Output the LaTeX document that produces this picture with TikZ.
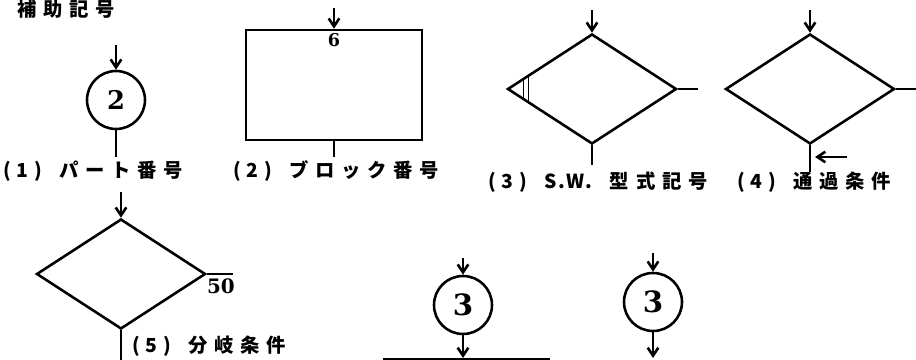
\documentclass[tikz,border=0pt]{standalone}
\usepackage{fontspec}
\usepackage{tikz}
\usetikzlibrary{positioning,arrows.meta,shapes.geometric,calc}
\newfontfamily\jpfont{Noto Sans CJK JP}[LetterSpace=35]
\newfontfamily\numfont{DejaVu Serif}
\newcommand\numlabel[1]{(\hspace{0.3em}#1\hspace{0.3em})\hspace{0.9em}}
\tikzset{
  flow/.style={line width=2.2pt},
  arrow/.style={flow, -{Straight Barb[length=2.4mm, width=3.2mm]}},
  numtext/.style={inner sep=0pt, font=\numfont\bfseries\fontsize{22}{22}\selectfont},
  partcircle/.style={draw, flow, circle, minimum size=17.4mm, inner sep=0pt, numtext},
  blockbox/.style={draw, flow, minimum width=52.8mm, minimum height=33mm, inner sep=0pt},
  decision/.style={draw, flow, diamond, minimum width=50.7mm, minimum height=33mm, inner sep=0pt},
  caption/.style={anchor=west, inner sep=0pt, font=\jpfont\bfseries\fontsize{16.5}{16.5}\selectfont},
}

\begin{document}
\begin{tikzpicture}[x=0.3mm, y=-0.3mm]
  \useasboundingbox (0,0) rectangle (916,360);
  \node[caption] (title) at (17,9) {補助記号};

  % (1) part number
  \node[partcircle] (part) at (116,100) {2};
  \coordinate (partin) at (116,45);
  \coordinate (partout) at (116,157);
  \draw[arrow] (partin) -- (part);
  \draw[flow] (part) -- (partout);
  \node[caption] (cap1) at (3,171) {\numlabel{1}パート番号};

  % (2) block number
  \node[blockbox] (block) at (334,85) {};
  \coordinate (blockin) at (334,8);
  \coordinate (blockout) at (334,157);
  \draw[arrow] (blockin) -- (block.north);
  \draw[flow] (block.south) -- (blockout);
  \node[numtext, font=\numfont\bfseries\fontsize{15}{15}\selectfont, below=1.4mm of block.north] (blockno) {6};
  \node[caption] (cap2) at (233,171) {\numlabel{2}ブロック番号};

  % (3) S.W. type
  \node[decision] (sw) at (592,89) {};
  \coordinate (swin) at (592,10);
  \coordinate (swout) at (592,165);
  \coordinate (swright) at (698,89);
  \draw[arrow] (swin) -- (sw.north);
  \draw[flow] (sw.south) -- (swout);
  \draw[flow] (sw.east) -- (swright);
  \draw[line width=1.2pt] ($(sw.west)!0.2!(sw.north)$) -- ($(sw.west)!0.2!(sw.south)$);
  \draw[line width=1.2pt] ($(sw.west)!0.26!(sw.north)$) -- ($(sw.west)!0.26!(sw.south)$);
  \node[caption] (cap3) at (488,182) {\numlabel{3}{\addfontfeature{LetterSpace=10}S.W.}\hspace{0.9em}型式記号};

  % (4) pass condition
  \node[decision] (pass) at (810,89) {};
  \coordinate (passin) at (810,10);
  \coordinate (passout) at (810,172);
  \coordinate (passright) at (916,89);
  \coordinate (condtail) at (847,157);
  \coordinate (condhead) at (815,157);
  \draw[arrow] (passin) -- (pass.north);
  \draw[flow] (pass.south) -- (passout);
  \draw[flow] (pass.east) -- (passright);
  \draw[arrow] (condtail) -- (condhead);
  \node[caption] (cap4) at (737,182) {\numlabel{4}通過条件};

  % (5) branch condition
  \node[decision] (branch) at (121,274) {};
  \coordinate (branchin) at (121,192);
  \coordinate (branchout) at (121,360);
  \coordinate (branchright) at (233,274);
  \draw[arrow] (branchin) -- (branch.north);
  \draw[flow] (branch.south) -- (branchout);
  \draw[flow] (branch.east) -- (branchright);
  \node[numtext, font=\numfont\bfseries\fontsize{17}{17}\selectfont, anchor=north west] (rate) at ($(branch.east)+(0,4)$) {50};
  \node[caption] (cap5) at (132,346) {\numlabel{5}分岐条件};

  % connectors
  \node[partcircle, font=\numfont\bfseries\fontsize{25}{25}\selectfont] (conA) at (463,305) {3};
  \coordinate (conAin) at (463,258);
  \coordinate (conAout) at (463,358);
  \coordinate (railL) at (383,359);
  \coordinate (railR) at (550,359);
  \draw[arrow] (conAin) -- (conA);
  \draw[arrow] (conA) -- (conAout);
  \draw[flow] (railL) -- (railR);

  \node[partcircle, font=\numfont\bfseries\fontsize{25}{25}\selectfont] (conB) at (653,302) {3};
  \coordinate (conBin) at (653,253);
  \coordinate (conBout) at (653,358);
  \draw[arrow] (conBin) -- (conB);
  \draw[arrow] (conB) -- (conBout);
\end{tikzpicture}
\end{document}
